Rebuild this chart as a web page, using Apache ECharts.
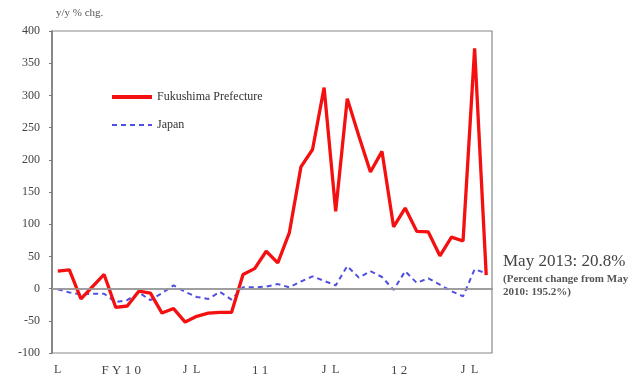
<!DOCTYPE html>
<html>
<head>
<meta charset="utf-8">
<script src="https://cdn.jsdelivr.net/npm/echarts@6/dist/echarts.min.js"></script>
<style>html,body{margin:0;padding:0;background:#fff;}#c{width:641px;height:378px;}</style>
</head>
<body>
<div id="c"></div>
<script>
// Months April 2010 .. May 2013 (38 points)
var months = ['2010-04','2010-05','2010-06','2010-07','2010-08','2010-09','2010-10','2010-11','2010-12','2011-01','2011-02','2011-03',
  '2011-04','2011-05','2011-06','2011-07','2011-08','2011-09','2011-10','2011-11','2011-12','2012-01','2012-02','2012-03',
  '2012-04','2012-05','2012-06','2012-07','2012-08','2012-09','2012-10','2012-11','2012-12','2013-01','2013-02','2013-03',
  '2013-04','2013-05'];
// tick labels shown under the axis (blank = no label)
var tickLabels = ['L','','','','','','FY10','','','','','J',
  'L','','','','','','11','','','','','J',
  'L','','','','','','12','','','','','J',
  'L',''];
var fukushima = [27,29,-16,3,22,-29,-27,-4,-7,-38,-31,-52,
  -43,-38,-37,-37,22,31,58,40,87,189,216,312,
  120,295,237,181,213,96,125,89,88,51,80,74,
  373,20.8];
var japan = [-1,-6,-9,-8,-8,-21,-18,-6,-18,-7,5,-5,
  -13,-16,-5,-17,2,2,3,7,2,11,19,12,
  5,35,17,27,18,-2,27,9,16,6,-4,-12,
  30,24];
var yTicks = {min:-100, max:400, step:50};

var chart = echarts.init(document.getElementById('c'));
var serif = '"Liberation Serif", "DejaVu Serif", serif';
chart.setOption({
  animation: false,
  backgroundColor: '#fff',
  grid: {left: 52, right: 149, top: 31, bottom: 25, show: true, borderColor: '#8a8a8a', borderWidth: 1.2},
  legend: {
    orient: 'vertical', left: 105, top: 86, itemWidth: 40, itemHeight: 14, itemGap: 16,
    itemStyle: {opacity: 0},
    textStyle: {fontFamily: serif, fontSize: 12, color: '#333'},
    data: [
      {name: 'Fukushima Prefecture', lineStyle: {width: 4}},
      {name: 'Japan', lineStyle: {width: 2}}
    ]
  },
  xAxis: {
    type: 'category', data: months, boundaryGap: true,
    axisLine: {lineStyle: {color: '#777', width: 1.5}},
    axisTick: {show: false},
    axisLabel: {
      interval: 0, margin: 11,
      fontFamily: serif, fontSize: 12, color: '#444',
      formatter: function (v, i) {
        var t = tickLabels[i];
        if (t === 'FY10') return '{f|F Y 1 0}';
        if (t === '11' || t === '12') return '{f|' + t.split('').join(' ') + '}';
        return t;
      },
      rich: {f: {fontFamily: serif, fontSize: 13, color: '#444', padding: [0, 12, 0, 0]}}
    },
    splitLine: {show: false}
  },
  yAxis: {
    type: 'value', min: yTicks.min, max: yTicks.max, interval: yTicks.step,
    name: 'y/y % chg.', nameLocation: 'end', nameGap: 12,
    nameTextStyle: {fontFamily: serif, fontSize: 11, color: '#555', align: 'left', padding: [0, 0, 0, 4]},
    axisLine: {show: true, lineStyle: {color: '#777', width: 1.5}},
    axisTick: {show: true, inside: false, length: 3, lineStyle: {color: '#777'}},
    axisLabel: {fontFamily: serif, fontSize: 12, color: '#444', margin: 12},
    splitLine: {show: false}
  },
  series: [
    {
      name: 'Fukushima Prefecture', type: 'line', data: fukushima, symbol: 'none',
      lineStyle: {color: '#f41010', width: 3.3}, itemStyle: {color: '#f41010'}, z: 3,
      markLine: {silent: true, symbol: 'none', label: {show: false},
        lineStyle: {color: '#a0a0a0', width: 1.5, type: 'solid'}, data: [{yAxis: 0}]}
    },
    {
      name: 'Japan', type: 'line', data: japan, symbol: 'none',
      lineStyle: {color: '#5050e0', width: 2, type: [5, 4]}, itemStyle: {color: '#5050e0'}, z: 2
    }
  ],
  graphic: [
    {type: 'text', left: 503, top: 253, style: {text: 'May 2013: 20.8%', fontFamily: serif, fontSize: 17, fill: '#444'}},
    {type: 'text', left: 503, top: 274, style: {text: '(Percent change from May', fontFamily: serif, fontSize: 11, fontWeight: 'bold', fill: '#555'}},
    {type: 'text', left: 503, top: 287, style: {text: '2010: 195.2%)', fontFamily: serif, fontSize: 11, fontWeight: 'bold', fill: '#555'}}
  ]
});
</script>
</body>
</html>
